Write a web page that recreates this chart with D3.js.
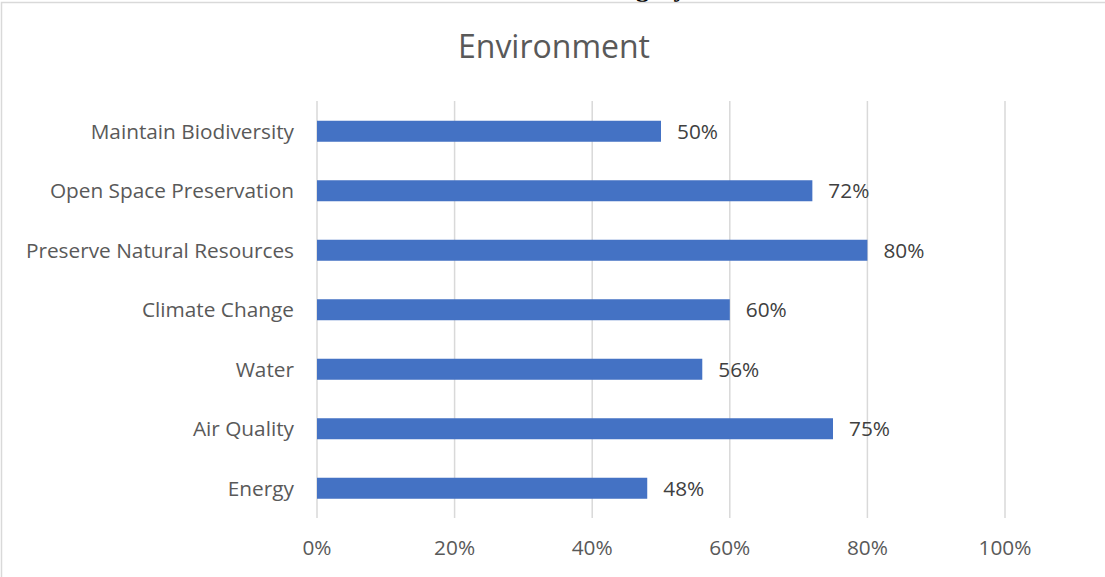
<!DOCTYPE html>
<html>
<head>
<meta charset="utf-8">
<script src="https://cdn.jsdelivr.net/npm/d3@7"></script>
<style>
  body { margin: 0; background: #fff; }
  svg text { font-family: "Open Sans", "Noto Sans", sans-serif; }
</style>
</head>
<body>
<div id="wrap"></div>
<script>
// data, top to bottom as in the chart
var categories = ["Maintain Biodiversity", "Open Space Preservation", "Preserve Natural Resources",
                  "Climate Change", "Water", "Air Quality", "Energy"];
var values = [0.50, 0.72, 0.80, 0.60, 0.56, 0.75, 0.48];
var ticks = [0, 0.2, 0.4, 0.6, 0.8, 1.0];

var width = 1105, height = 577;
var label_color = "#595959";
var value_color = "#404040";
var bar_color = "#4472c4";
var grid_color = "#d9d9d9";
var text_size = "20.8px";

var svg = d3.select("#wrap")
  .append("svg")
  .attr("width", width)
  .attr("height", height);

svg.append("rect")
  .attr("width", width).attr("height", height)
  .attr("fill", "#fff");

// cut-off heading from the page above the chart
svg.append("text")
  .attr("x", 584)
  .attr("y", -3)
  .style("font-family", "'Liberation Serif', serif")
  .style("font-weight", "bold")
  .style("font-size", "26px")
  .attr("fill", "#000")
  .text("Category");

// chart border
svg.append("rect")
  .attr("x", 1.5).attr("y", 2.5)
  .attr("width", width + 10).attr("height", height + 10)
  .attr("fill", "none")
  .attr("stroke", grid_color)
  .attr("stroke-width", 1.5);

var x = d3.scaleLinear().domain([0, 1]).range([317, 1005]);
var y = d3.scaleBand()
  .domain(categories)
  .range([101.5, 518])
  .paddingInner(0.647)
  .paddingOuter(0.3235);

// gridlines
svg.append("g")
  .selectAll("line")
  .data(ticks)
  .join("line")
  .attr("x1", d => x(d)).attr("x2", d => x(d))
  .attr("y1", 101).attr("y2", 518)
  .attr("stroke", grid_color)
  .attr("stroke-width", 1.5);

// x tick labels
svg.append("g")
  .selectAll("text")
  .data(ticks)
  .join("text")
  .attr("x", d => x(d))
  .attr("y", 555)
  .attr("text-anchor", "middle")
  .attr("fill", label_color)
  .style("font-size", text_size)
  .text(d => d3.format(".0%")(d));

// title
svg.append("text")
  .attr("x", 554)
  .attr("y", 58)
  .attr("text-anchor", "middle")
  .attr("fill", label_color)
  .style("font-size", "32px")
  .text("Environment");

var rows = categories.map((c, i) => ({cat: c, val: values[i]}));

// bars
svg.append("g")
  .selectAll("rect")
  .data(rows)
  .join("rect")
  .attr("x", x(0))
  .attr("y", d => y(d.cat))
  .attr("width", d => x(d.val) - x(0))
  .attr("height", y.bandwidth())
  .attr("fill", bar_color);

// category labels
svg.append("g")
  .selectAll("text")
  .data(rows)
  .join("text")
  .attr("x", x(0) - 23)
  .attr("y", d => y(d.cat) + y.bandwidth() / 2)
  .attr("dy", "0.35em")
  .attr("text-anchor", "end")
  .attr("fill", label_color)
  .style("font-size", text_size)
  .text(d => d.cat);

// value labels
svg.append("g")
  .selectAll("text")
  .data(rows)
  .join("text")
  .attr("x", d => x(d.val) + 16)
  .attr("y", d => y(d.cat) + y.bandwidth() / 2)
  .attr("dy", "0.35em")
  .attr("fill", value_color)
  .style("font-size", text_size)
  .text(d => d3.format(".0%")(d.val));
</script>
</body>
</html>
